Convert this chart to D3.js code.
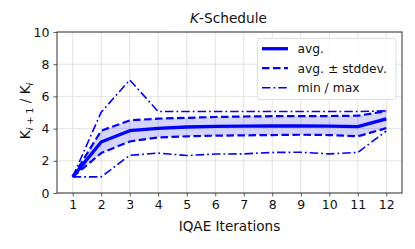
<!DOCTYPE html>
<html>
<head>
<meta charset="utf-8">
<script src="https://cdn.jsdelivr.net/npm/d3@7"></script>
<style>
  body { margin: 0; background: #fff; }
  svg { font-family: "DejaVu Sans", sans-serif; }
</style>
</head>
<body>
<div id="chart"></div>
<script>
// values
const iterations = [1, 2, 3, 4, 5, 6, 7, 8, 9, 10, 11, 12];
const avgValues = [1, 3.17, 3.87, 4.02, 4.1, 4.14, 4.15, 4.16, 4.16, 4.15, 4.12, 4.6];
const upperStd = [1, 3.87, 4.51, 4.62, 4.67, 4.72, 4.75, 4.77, 4.78, 4.78, 4.8, 5.08];
const lowerStd = [1, 2.48, 3.2, 3.45, 3.52, 3.56, 3.58, 3.6, 3.62, 3.6, 3.52, 4.03];
const minValues = [1, 1, 2.34, 2.48, 2.33, 2.42, 2.43, 2.52, 2.53, 2.43, 2.52, 3.85];
const maxValues = [1, 5.02, 7.02, 5.06, 5.06, 5.06, 5.06, 5.06, 5.06, 5.06, 5.06, 5.1];
const yTicks = [0, 2, 4, 6, 8, 10];
const legendLabels = ['avg.', 'avg. \u00b1 stddev.', 'min / max'];

const width = 415;
const height = 249;
const margin = {top: 32, right: 13, bottom: 56, left: 57};
const blue = '#0000ff';

const svg = d3.select('#chart').append('svg')
    .attr('width', width)
    .attr('height', height);

const x = d3.scaleLinear()
    .domain([0.45, 12.55])
    .range([margin.left, width - margin.right]);

const y = d3.scaleLinear()
    .domain([0, 10])
    .range([height - margin.bottom, margin.top]);

// grid
const grid = svg.append('g').attr('stroke', '#dcdcdc').attr('stroke-width', 0.8);
grid.selectAll('.gx').data(iterations).join('line')
    .attr('x1', d => x(d)).attr('x2', d => x(d))
    .attr('y1', y(0)).attr('y2', y(10));
grid.selectAll('.gy').data(yTicks).join('line')
    .attr('x1', x.range()[0]).attr('x2', x.range()[1])
    .attr('y1', d => y(d)).attr('y2', d => y(d));

// std band
const area = d3.area()
    .x((d, i) => x(iterations[i]))
    .y0((d, i) => y(lowerStd[i]))
    .y1(d => y(d));
svg.append('path')
    .datum(upperStd)
    .attr('d', area)
    .attr('fill', blue)
    .attr('fill-opacity', 0.17);

const line = d3.line()
    .x((d, i) => x(iterations[i]))
    .y(d => y(d));

const styles = {
    avg: {w: 3.3, dash: null},
    std: {w: 2.2, dash: '7.5,3.5'},
    minmax: {w: 1.6, dash: '8.5,3,1.8,3'}
};

function drawLine(values, st) {
    svg.append('path')
        .datum(values)
        .attr('d', line)
        .attr('fill', 'none')
        .attr('stroke', blue)
        .attr('stroke-width', st.w)
        .attr('stroke-dasharray', st.dash)
        .attr('stroke-linejoin', 'round');
}

drawLine(minValues, styles.minmax);
drawLine(maxValues, styles.minmax);
drawLine(lowerStd, styles.std);
drawLine(upperStd, styles.std);
drawLine(avgValues, styles.avg);

// axes
const xAxis = d3.axisBottom(x).tickValues(iterations).tickSize(3.5).tickPadding(4);
const yAxis = d3.axisLeft(y).tickValues(yTicks).tickSize(3.5).tickPadding(4);

const gx = svg.append('g')
    .attr('transform', `translate(0,${y(0)})`)
    .call(xAxis);
const gy = svg.append('g')
    .attr('transform', `translate(${x.range()[0]},0)`)
    .call(yAxis);

[gx, gy].forEach(g => {
    g.select('.domain').remove();
    g.selectAll('.tick line').attr('stroke', '#333').attr('stroke-width', 0.8);
    g.selectAll('.tick text')
        .attr('fill', '#111')
        .style('font-size', '12.5px')
        .style('font-family', '"DejaVu Sans", sans-serif');
});

// frame
svg.append('rect')
    .attr('x', x.range()[0])
    .attr('y', y(10))
    .attr('width', x.range()[1] - x.range()[0])
    .attr('height', y(0) - y(10))
    .attr('fill', 'none')
    .attr('stroke', '#333')
    .attr('stroke-width', 1);

// title
const title = svg.append('text')
    .attr('x', (x.range()[0] + x.range()[1]) / 2 - 1)
    .attr('y', 23)
    .attr('text-anchor', 'middle')
    .style('font-size', '13.7px')
    .attr('fill', '#111');
title.append('tspan').attr('font-style', 'italic').text('K');
title.append('tspan').text('-Schedule');

// x label
svg.append('text')
    .attr('x', (x.range()[0] + x.range()[1]) / 2)
    .attr('y', 231)
    .attr('text-anchor', 'middle')
    .style('font-size', '13.6px')
    .attr('fill', '#111')
    .text('IQAE Iterations');

// y label
const yl = svg.append('text')
    .attr('transform', 'translate(30,111) rotate(-90)')
    .attr('text-anchor', 'middle')
    .style('font-size', '13.6px')
    .attr('fill', '#111');
yl.append('tspan').text('K');
yl.append('tspan').attr('font-style', 'italic').attr('font-size', '9.5px').attr('dy', 3).text('i');
yl.append('tspan').attr('font-size', '9.5px').text(' + 1');
yl.append('tspan').attr('dy', -3).text('  /  K');
yl.append('tspan').attr('font-style', 'italic').attr('font-size', '9.5px').attr('dy', 3).text('i');

// legend
const legend = svg.append('g');
legend.append('rect')
    .attr('x', 257.5).attr('y', 38.5)
    .attr('width', 138.5).attr('height', 61)
    .attr('rx', 2.5)
    .attr('fill', '#fff').attr('fill-opacity', 0.85)
    .attr('stroke', '#d5d5d5').attr('stroke-width', 0.8);

const legendStyles = [styles.avg, styles.std, styles.minmax];
legendLabels.forEach((label, i) => {
    const ly = 48.7 + i * 19.5;
    legend.append('line')
        .attr('x1', 262).attr('x2', 288)
        .attr('y1', ly).attr('y2', ly)
        .attr('stroke', blue)
        .attr('stroke-width', legendStyles[i].w)
        .attr('stroke-dasharray', legendStyles[i].dash);
    legend.append('text')
        .attr('x', 297.5).attr('y', ly)
        .attr('dy', '0.35em')
        .style('font-size', '12.3px')
        .attr('fill', '#111')
        .text(label);
});
</script>
</body>
</html>
